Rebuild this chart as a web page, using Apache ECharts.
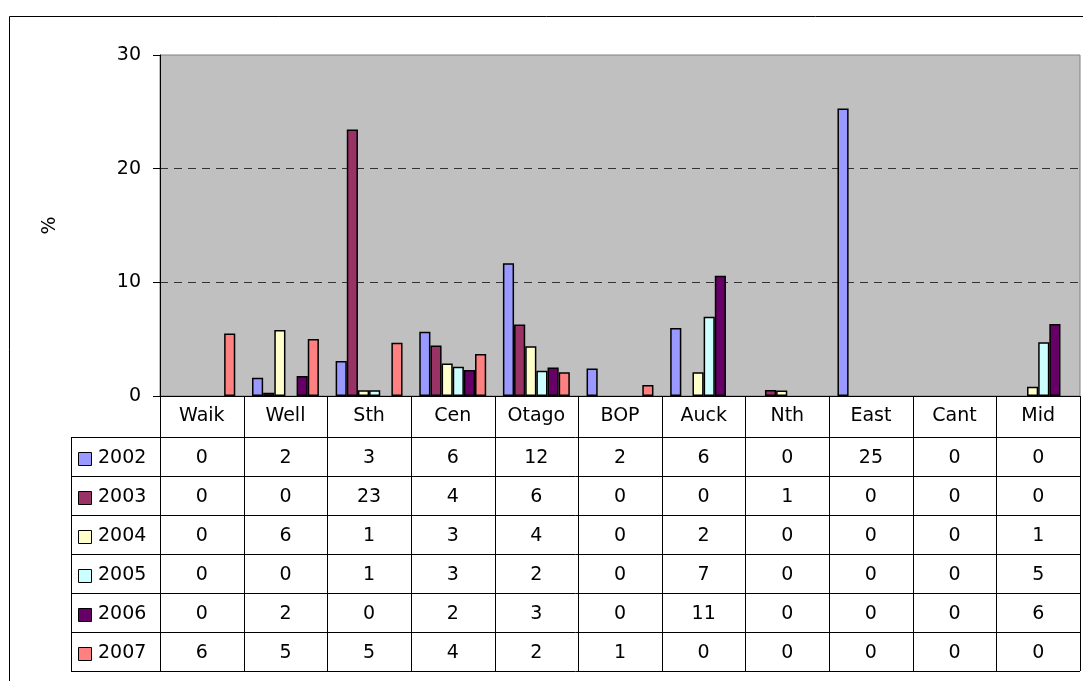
<!DOCTYPE html>
<html>
<head>
<meta charset="utf-8">
<script src="https://cdn.jsdelivr.net/npm/echarts@6/dist/echarts.min.js"></script>
<style>
html, body { margin: 0; padding: 0; background: #fff; }
#chart { width: 1083px; height: 681px; }
</style>
</head>
<body>
<div id="chart"></div>
<script>
var regions = ['Waik', 'Well', 'Sth', 'Cen', 'Otago', 'BOP', 'Auck', 'Nth', 'East', 'Cant', 'Mid'];
var years = ['2002', '2003', '2004', '2005', '2006', '2007'];
var colors = ['#9999FF', '#993366', '#FFFFCC', '#CCFFFF', '#660066', '#FF8080'];

// % by region
var v2002 = [0, 1.61, 3.08, 5.66, 11.67, 2.43, 5.98, 0, 25.3, 0, 0];
var v2003 = [0, 0.29, 23.45, 4.45, 6.3, 0, 0, 0.52, 0, 0, 0];
var v2004 = [0, 5.8, 0.5, 2.87, 4.37, 0, 2.08, 0.48, 0, 0, 0.82];
var v2005 = [0, 0, 0.5, 2.58, 2.23, 0, 6.98, 0, 0, 0, 4.72];
var v2006 = [0, 1.76, 0, 2.29, 2.5, 0, 10.59, 0, 0, 0, 6.33];
var v2007 = [5.5, 5.01, 4.69, 3.7, 2.08, 0.97, 0, 0, 0, 0, 0];
var values = [v2002, v2003, v2004, v2005, v2006, v2007];

var yMin = 0, yMax = 30, yStep = 10;

var font = 'DejaVu Sans';
var fontSize = 19;

var plotLeft = 160, plotRight = 1080, plotTop = 55, plotBottom = 396;
var headerH = 41, rowH = 39, tableLeft = 71;

var chart = echarts.init(document.getElementById('chart'));

var option = {
  animation: false,
  grid: {
    left: plotLeft,
    right: 1083 - plotRight,
    top: plotTop,
    height: plotBottom - plotTop,
    show: true,
    backgroundColor: '#C0C0C0',
    borderColor: '#808080',
    borderWidth: 1
  },
  xAxis: {
    type: 'category',
    data: regions,
    axisLine: { lineStyle: { color: '#000', width: 1 } },
    axisTick: { show: false },
    axisLabel: { interval: 0, margin: 11, color: '#000', fontFamily: font, fontSize: fontSize }
  },
  yAxis: {
    type: 'value',
    min: yMin,
    max: yMax,
    interval: yStep,
    name: '%',
    nameLocation: 'middle',
    nameRotate: 90,
    nameGap: 100,
    nameTextStyle: { color: '#000', fontFamily: font, fontSize: fontSize },
    axisLine: { show: true, lineStyle: { color: '#000' } },
    axisTick: { show: true, length: 7, lineStyle: { color: '#000' } },
    axisLabel: { margin: 19, color: '#000', fontFamily: font, fontSize: fontSize },
    splitLine: {
      show: true,
      showMinLine: false,
      showMaxLine: false,
      lineStyle: { type: [8, 6], color: '#333' }
    }
  },
  series: years.map(function (y, i) {
    return {
      name: y,
      type: 'bar',
      // zero values get no outline so they don't leave a stub on the axis
      data: values[i].map(function (v) {
        return v === 0 ? { value: 0, itemStyle: { borderWidth: 0 } } : v;
      }),
      barGap: '0%',
      barCategoryGap: '20%',
      itemStyle: { color: colors[i], borderColor: '#000', borderWidth: 1.5 }
    };
  })
};

chart.setOption(option);

// data table under the plot
var centers = regions.map(function (r) {
  return chart.convertToPixel({ xAxisIndex: 0 }, r);
});
var band = centers[1] - centers[0];
var tableTop = plotBottom + headerH;
var tableBottom = tableTop + rowH * years.length;
var els = [];

function px(v) { return Math.round(v) + 0.5; }

// chart area frame
els.push({
  type: 'rect',
  shape: { x: 9.5, y: 16.5, width: 1200, height: 800 },
  style: { fill: 'none', stroke: '#000', lineWidth: 1 }
});

for (var r = 0; r <= years.length; r++) {
  var yy = px(tableTop + r * rowH);
  els.push({
    type: 'line',
    shape: { x1: tableLeft, y1: yy, x2: plotRight, y2: yy },
    style: { stroke: '#000', lineWidth: 1 }
  });
}

els.push({
  type: 'line',
  shape: { x1: px(tableLeft), y1: tableTop, x2: px(tableLeft), y2: tableBottom },
  style: { stroke: '#000', lineWidth: 1 }
});
for (var c = 0; c <= regions.length; c++) {
  var x = px(centers[0] - band / 2 + c * band);
  els.push({
    type: 'line',
    shape: { x1: x, y1: plotBottom, x2: x, y2: tableBottom },
    style: { stroke: '#000', lineWidth: 1 }
  });
}

years.forEach(function (y, i) {
  var cy = tableTop + i * rowH + rowH / 2;
  els.push({
    type: 'rect',
    shape: { x: 78.5, y: Math.round(cy - 5) + 0.5, width: 13, height: 13 },
    style: { fill: colors[i], stroke: '#000', lineWidth: 1 }
  });
  els.push({
    type: 'text',
    x: 98,
    y: cy + 2,
    style: {
      text: y, fill: '#000', fontFamily: font, fontSize: fontSize,
      align: 'left', verticalAlign: 'middle'
    }
  });
  values[i].forEach(function (v, j) {
    els.push({
      type: 'text',
      x: centers[j],
      y: cy + 2,
      style: {
        text: String(Math.round(v)), fill: '#000', fontFamily: font, fontSize: fontSize,
        align: 'center', verticalAlign: 'middle'
      }
    });
  });
});

chart.setOption({ graphic: { elements: els } });
</script>
</body>
</html>
